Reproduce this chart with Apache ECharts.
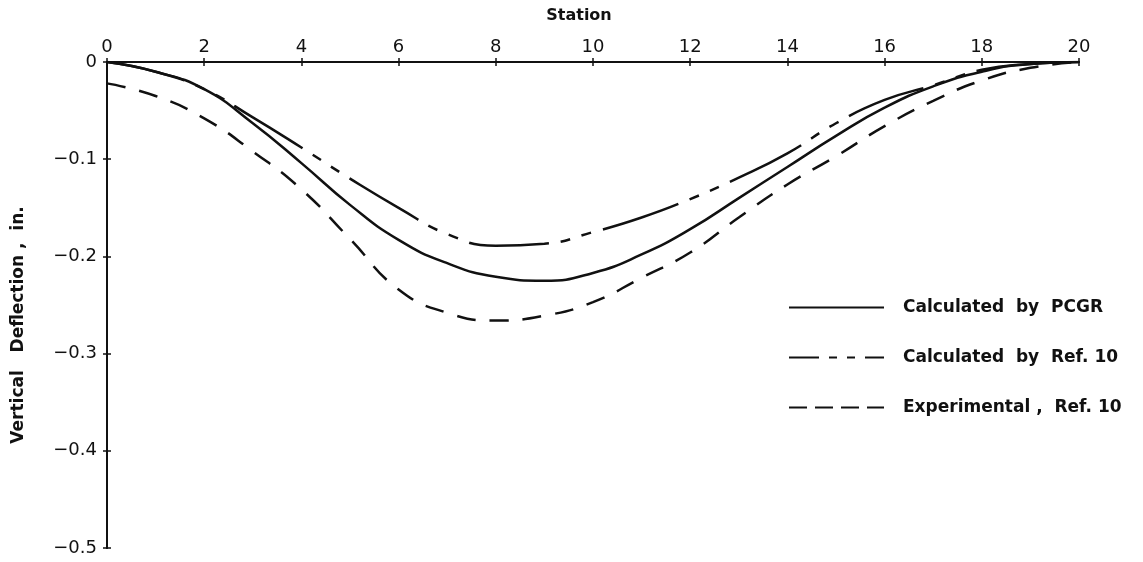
<!DOCTYPE html>
<html>
<head>
<meta charset="utf-8">
<script src="https://cdn.jsdelivr.net/npm/echarts@6/dist/echarts.min.js"></script>
<style>html,body{margin:0;padding:0;background:#fff}#c{width:1143px;height:562px}</style>
</head>
<body>
<div id="c"></div>
<script>
var stations = [0,1,2,3,4,5,6,7,8,9,10,11,12,13,14,15,16,17,18,19,20];
var pcgr   = [0,-0.010,-0.028,-0.063,-0.104,-0.147,-0.183,-0.207,-0.221,-0.225,-0.217,-0.198,-0.172,-0.140,-0.108,-0.076,-0.047,-0.025,-0.010,-0.002,0];
var ref10  = [0,-0.010,-0.028,-0.057,-0.088,-0.120,-0.150,-0.177,-0.189,-0.187,-0.175,-0.160,-0.141,-0.119,-0.094,-0.063,-0.039,-0.024,-0.008,-0.002,0];
var expt   = [-0.022,-0.035,-0.058,-0.092,-0.131,-0.182,-0.234,-0.258,-0.266,-0.261,-0.247,-0.222,-0.196,-0.160,-0.126,-0.097,-0.066,-0.040,-0.019,-0.006,0];
var seriesNames = ['Calculated  by  PCGR', 'Calculated  by  Ref. 10', 'Experimental ,  Ref. 10'];
var xTicks = [0,2,4,6,8,10,12,14,16,18,20];
var yTicks = [0,-0.1,-0.2,-0.3,-0.4,-0.5];

function pairs(ys){ return stations.map(function(x,i){ return [x, ys[i]]; }); }
var ink = '#111';
var font = 'DejaVu Sans';
var chart = echarts.init(document.getElementById('c'));
var axisCommon = {
  type: 'value', splitLine: {show:false},
  axisLine: {show:true, lineStyle:{color:ink, width:2}}
};
chart.setOption({
  animation: false,
  backgroundColor: '#fff',
  grid: {left:107, right:64, top:62, bottom:14},
  xAxis: [
    Object.assign({}, axisCommon, {
      position:'top', min:0, max:20, interval:2,
      name:'Station', nameLocation:'middle', nameGap:38,
      nameTextStyle:{color:ink, fontFamily:font, fontSize:16, fontWeight:'bold', padding:[0,28,0,0]},
      axisTick:{show:true, length:4, lineStyle:{color:ink, width:1.5}},
      axisLabel:{color:ink, fontFamily:font, fontSize:18, margin:6,
        formatter:function(v){ return xTicks.indexOf(v)>=0 ? String(v) : ''; }}
    }),
    Object.assign({}, axisCommon, {
      position:'top', min:0, max:20, interval:2,
      axisTick:{show:true, inside:true, length:4, lineStyle:{color:ink, width:1.5}},
      axisLabel:{show:false}
    })
  ],
  yAxis: [
    Object.assign({}, axisCommon, {
      min:-0.5, max:0, interval:0.1,
      name:'Vertical   Deflection ,  in.', nameLocation:'middle', nameGap:80, nameRotate:90,
      nameTextStyle:{color:ink, fontFamily:font, fontSize:17, fontWeight:'bold', padding:[0,40,0,0]},
      axisTick:{show:true, length:4, lineStyle:{color:ink, width:1.5}},
      axisLabel:{color:ink, fontFamily:font, fontSize:18, margin:10,
        formatter:function(v){ var r=Math.round(v*10)/10; if(r===0) return '0'; return '−' + Math.abs(r).toFixed(1); }}
    }),
    Object.assign({}, axisCommon, {
      position:'left', min:-0.5, max:0, interval:0.1,
      axisTick:{show:true, inside:true, length:4, lineStyle:{color:ink, width:1.5}},
      axisLabel:{show:false}
    })
  ],
  legend: {
    orient:'vertical', left:783, top:294, itemWidth:95, itemHeight:14, itemGap:33,
    itemStyle:{opacity:0},
    textStyle:{color:ink, fontFamily:font, fontSize:17, fontWeight:'bold', padding:[0,0,0,14]},
    data:[
      {name:seriesNames[0], lineStyle:{type:'solid'}},
      {name:seriesNames[1], lineStyle:{type:[30,10,8,10,8,10]}},
      {name:seriesNames[2], lineStyle:{type:[18,8]}}
    ]
  },
  series: [
    {name:seriesNames[0], type:'line', data:pairs(pcgr), smooth:0.5, symbol:'none',
     lineStyle:{color:ink, width:2.5, type:'solid'}, itemStyle:{color:ink}},
    {name:seriesNames[1], type:'line', data:pairs(ref10), smooth:0.5, symbol:'none',
     lineStyle:{color:ink, width:2.5, type:[80,12,10,12,10,12]}, itemStyle:{color:ink}},
    {name:seriesNames[2], type:'line', data:pairs(expt), smooth:0.5, symbol:'none',
     lineStyle:{color:ink, width:2.5, type:[19,14]}, itemStyle:{color:ink}}
  ]
});
</script>
</body>
</html>
